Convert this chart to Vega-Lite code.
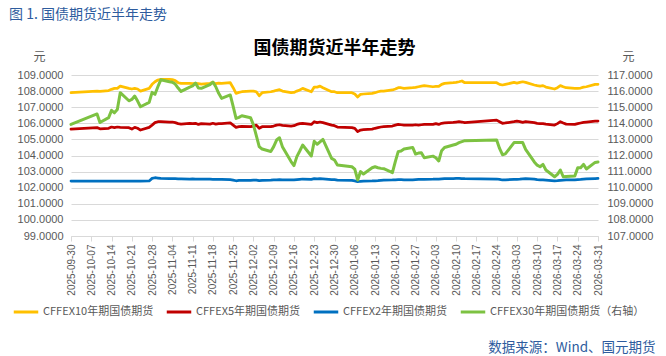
{
  "$schema": "https://vega.github.io/schema/vega-lite/v6.json",
  "width": 527,
  "height": 161,
  "autosize": {"type": "none"},
  "padding": {"left": 71, "top": 75, "right": 68, "bottom": 120},
  "background": "white",
  "config": {
    "view": {"stroke": null},
    "font": "Liberation Sans",
    "axis": {"labelFont": "Liberation Sans", "labelColor": "#595959", "titleFont": "Noto Sans CJK SC", "titleFontWeight": "normal"}
  },
  "title": {
    "text": "图 1. 国债期货近半年走势",
    "anchor": "start",
    "frame": "group",
    "dx": -62,
    "offset": 0,
    "dy": -17,
    "font": "Noto Sans CJK SC",
    "fontSize": 14,
    "fontWeight": "normal",
    "color": "#2E5C9E"
  },
  "data": {
    "format": {"parse": {"date": "utc:'%Y-%m-%d'"}},
    "values": [
      {"date": "2025-09-30", "a": 107.90, "b": 105.64, "c": 102.41, "d": 113.93},
      {"date": "2025-10-09", "a": 108.00, "b": 105.73, "c": 102.41, "d": 114.58},
      {"date": "2025-10-10", "a": 107.98, "b": 105.66, "c": 102.41, "d": 114.05},
      {"date": "2025-10-13", "a": 108.03, "b": 105.69, "c": 102.41, "d": 114.35},
      {"date": "2025-10-14", "a": 108.11, "b": 105.77, "c": 102.41, "d": 114.80},
      {"date": "2025-10-15", "a": 108.17, "b": 105.73, "c": 102.41, "d": 114.65},
      {"date": "2025-10-16", "a": 108.17, "b": 105.77, "c": 102.41, "d": 114.85},
      {"date": "2025-10-17", "a": 108.31, "b": 105.75, "c": 102.41, "d": 115.90},
      {"date": "2025-10-20", "a": 108.17, "b": 105.73, "c": 102.41, "d": 115.40},
      {"date": "2025-10-21", "a": 108.13, "b": 105.64, "c": 102.41, "d": 115.48},
      {"date": "2025-10-22", "a": 108.17, "b": 105.75, "c": 102.41, "d": 115.69},
      {"date": "2025-10-23", "a": 108.13, "b": 105.69, "c": 102.41, "d": 115.38},
      {"date": "2025-10-24", "a": 108.00, "b": 105.58, "c": 102.41, "d": 115.03},
      {"date": "2025-10-27", "a": 108.17, "b": 105.75, "c": 102.42, "d": 115.30},
      {"date": "2025-10-28", "a": 108.42, "b": 105.89, "c": 102.58, "d": 115.92},
      {"date": "2025-10-29", "a": 108.58, "b": 106.04, "c": 102.62, "d": 115.80},
      {"date": "2025-10-30", "a": 108.69, "b": 106.10, "c": 102.60, "d": 116.27},
      {"date": "2025-10-31", "a": 108.73, "b": 106.10, "c": 102.58, "d": 116.70},
      {"date": "2025-11-03", "a": 108.73, "b": 106.08, "c": 102.57, "d": 116.58},
      {"date": "2025-11-04", "a": 108.71, "b": 106.08, "c": 102.56, "d": 116.55},
      {"date": "2025-11-05", "a": 108.65, "b": 106.04, "c": 102.56, "d": 116.44},
      {"date": "2025-11-06", "a": 108.52, "b": 105.98, "c": 102.55, "d": 116.19},
      {"date": "2025-11-07", "a": 108.48, "b": 105.95, "c": 102.55, "d": 115.98},
      {"date": "2025-11-10", "a": 108.48, "b": 106.00, "c": 102.54, "d": 116.25},
      {"date": "2025-11-11", "a": 108.46, "b": 105.98, "c": 102.55, "d": 116.32},
      {"date": "2025-11-12", "a": 108.48, "b": 106.00, "c": 102.54, "d": 116.50},
      {"date": "2025-11-13", "a": 108.46, "b": 105.93, "c": 102.54, "d": 116.19},
      {"date": "2025-11-14", "a": 108.44, "b": 105.98, "c": 102.53, "d": 116.17},
      {"date": "2025-11-17", "a": 108.48, "b": 105.95, "c": 102.53, "d": 116.40},
      {"date": "2025-11-18", "a": 108.54, "b": 106.00, "c": 102.52, "d": 116.56},
      {"date": "2025-11-19", "a": 108.46, "b": 105.95, "c": 102.52, "d": 116.27},
      {"date": "2025-11-20", "a": 108.50, "b": 105.98, "c": 102.51, "d": 115.86},
      {"date": "2025-11-21", "a": 108.48, "b": 105.98, "c": 102.52, "d": 115.55},
      {"date": "2025-11-24", "a": 108.52, "b": 106.02, "c": 102.50, "d": 115.76},
      {"date": "2025-11-25", "a": 108.21, "b": 105.89, "c": 102.47, "d": 115.05},
      {"date": "2025-11-26", "a": 107.86, "b": 105.75, "c": 102.43, "d": 114.30},
      {"date": "2025-11-27", "a": 107.92, "b": 105.79, "c": 102.45, "d": 114.37},
      {"date": "2025-11-28", "a": 107.96, "b": 105.81, "c": 102.46, "d": 114.47},
      {"date": "2025-12-01", "a": 108.00, "b": 105.79, "c": 102.46, "d": 114.35},
      {"date": "2025-12-02", "a": 108.00, "b": 105.83, "c": 102.47, "d": 113.90},
      {"date": "2025-12-03", "a": 107.96, "b": 105.89, "c": 102.47, "d": 113.23},
      {"date": "2025-12-04", "a": 107.71, "b": 105.69, "c": 102.44, "d": 112.55},
      {"date": "2025-12-05", "a": 107.90, "b": 105.79, "c": 102.46, "d": 112.40},
      {"date": "2025-12-08", "a": 107.96, "b": 105.79, "c": 102.47, "d": 112.25},
      {"date": "2025-12-09", "a": 108.00, "b": 105.83, "c": 102.48, "d": 112.55},
      {"date": "2025-12-10", "a": 108.05, "b": 105.89, "c": 102.49, "d": 112.96},
      {"date": "2025-12-11", "a": 108.09, "b": 105.91, "c": 102.50, "d": 113.10},
      {"date": "2025-12-12", "a": 108.00, "b": 105.87, "c": 102.49, "d": 112.55},
      {"date": "2025-12-15", "a": 107.90, "b": 105.83, "c": 102.48, "d": 111.62},
      {"date": "2025-12-16", "a": 107.92, "b": 105.85, "c": 102.48, "d": 111.37},
      {"date": "2025-12-17", "a": 108.00, "b": 105.93, "c": 102.50, "d": 111.93},
      {"date": "2025-12-18", "a": 108.07, "b": 105.98, "c": 102.52, "d": 112.28},
      {"date": "2025-12-19", "a": 108.17, "b": 106.00, "c": 102.54, "d": 112.65},
      {"date": "2025-12-22", "a": 107.96, "b": 105.93, "c": 102.52, "d": 111.97},
      {"date": "2025-12-23", "a": 108.25, "b": 106.10, "c": 102.56, "d": 112.88},
      {"date": "2025-12-24", "a": 108.25, "b": 106.04, "c": 102.55, "d": 112.70},
      {"date": "2025-12-25", "a": 108.31, "b": 106.08, "c": 102.56, "d": 112.85},
      {"date": "2025-12-26", "a": 108.21, "b": 106.04, "c": 102.55, "d": 113.00},
      {"date": "2025-12-29", "a": 107.96, "b": 105.89, "c": 102.50, "d": 111.82},
      {"date": "2025-12-30", "a": 107.96, "b": 105.85, "c": 102.50, "d": 111.72},
      {"date": "2025-12-31", "a": 107.90, "b": 105.77, "c": 102.47, "d": 111.41},
      {"date": "2026-01-05", "a": 107.90, "b": 105.73, "c": 102.45, "d": 111.30},
      {"date": "2026-01-06", "a": 107.82, "b": 105.69, "c": 102.42, "d": 111.15},
      {"date": "2026-01-07", "a": 107.63, "b": 105.48, "c": 102.37, "d": 110.48},
      {"date": "2026-01-08", "a": 107.80, "b": 105.58, "c": 102.40, "d": 111.00},
      {"date": "2026-01-09", "a": 107.82, "b": 105.60, "c": 102.41, "d": 110.85},
      {"date": "2026-01-12", "a": 107.86, "b": 105.64, "c": 102.42, "d": 111.24},
      {"date": "2026-01-13", "a": 107.90, "b": 105.69, "c": 102.43, "d": 111.30},
      {"date": "2026-01-14", "a": 107.96, "b": 105.73, "c": 102.44, "d": 111.24},
      {"date": "2026-01-15", "a": 108.00, "b": 105.77, "c": 102.46, "d": 111.20},
      {"date": "2026-01-16", "a": 108.00, "b": 105.79, "c": 102.47, "d": 111.18},
      {"date": "2026-01-19", "a": 108.07, "b": 105.83, "c": 102.48, "d": 110.93},
      {"date": "2026-01-20", "a": 108.13, "b": 105.89, "c": 102.49, "d": 111.62},
      {"date": "2026-01-21", "a": 108.21, "b": 105.93, "c": 102.50, "d": 112.24},
      {"date": "2026-01-22", "a": 108.21, "b": 105.91, "c": 102.50, "d": 112.28},
      {"date": "2026-01-23", "a": 108.17, "b": 105.89, "c": 102.49, "d": 112.40},
      {"date": "2026-01-26", "a": 108.21, "b": 105.89, "c": 102.49, "d": 112.50},
      {"date": "2026-01-27", "a": 108.23, "b": 105.91, "c": 102.50, "d": 112.09},
      {"date": "2026-01-28", "a": 108.27, "b": 105.89, "c": 102.51, "d": 112.15},
      {"date": "2026-01-29", "a": 108.31, "b": 105.91, "c": 102.52, "d": 112.17},
      {"date": "2026-01-30", "a": 108.34, "b": 105.93, "c": 102.52, "d": 111.86},
      {"date": "2026-02-02", "a": 108.27, "b": 105.93, "c": 102.53, "d": 111.96},
      {"date": "2026-02-03", "a": 108.29, "b": 105.98, "c": 102.54, "d": 111.86},
      {"date": "2026-02-04", "a": 108.29, "b": 105.93, "c": 102.54, "d": 111.66},
      {"date": "2026-02-05", "a": 108.42, "b": 106.00, "c": 102.55, "d": 112.30},
      {"date": "2026-02-06", "a": 108.48, "b": 106.02, "c": 102.56, "d": 112.50},
      {"date": "2026-02-09", "a": 108.52, "b": 106.06, "c": 102.57, "d": 112.65},
      {"date": "2026-02-10", "a": 108.54, "b": 106.08, "c": 102.58, "d": 112.70},
      {"date": "2026-02-11", "a": 108.58, "b": 106.10, "c": 102.58, "d": 112.80},
      {"date": "2026-02-12", "a": 108.63, "b": 106.08, "c": 102.57, "d": 112.86},
      {"date": "2026-02-13", "a": 108.52, "b": 106.04, "c": 102.56, "d": 112.92},
      {"date": "2026-02-24", "a": 108.52, "b": 106.20, "c": 102.54, "d": 112.96},
      {"date": "2026-02-25", "a": 108.42, "b": 106.10, "c": 102.52, "d": 112.44},
      {"date": "2026-02-26", "a": 108.38, "b": 106.00, "c": 102.48, "d": 112.05},
      {"date": "2026-02-27", "a": 108.42, "b": 106.02, "c": 102.49, "d": 112.10},
      {"date": "2026-03-02", "a": 108.54, "b": 106.10, "c": 102.51, "d": 112.80},
      {"date": "2026-03-03", "a": 108.50, "b": 106.14, "c": 102.52, "d": 112.80},
      {"date": "2026-03-04", "a": 108.54, "b": 106.10, "c": 102.53, "d": 112.80},
      {"date": "2026-03-05", "a": 108.58, "b": 106.06, "c": 102.55, "d": 112.80},
      {"date": "2026-03-06", "a": 108.54, "b": 106.10, "c": 102.56, "d": 112.38},
      {"date": "2026-03-09", "a": 108.38, "b": 106.04, "c": 102.53, "d": 111.60},
      {"date": "2026-03-10", "a": 108.34, "b": 106.00, "c": 102.50, "d": 111.40},
      {"date": "2026-03-11", "a": 108.31, "b": 105.98, "c": 102.49, "d": 111.30},
      {"date": "2026-03-12", "a": 108.34, "b": 105.98, "c": 102.48, "d": 111.45},
      {"date": "2026-03-13", "a": 108.25, "b": 105.95, "c": 102.47, "d": 111.10},
      {"date": "2026-03-16", "a": 108.13, "b": 105.89, "c": 102.43, "d": 110.68},
      {"date": "2026-03-17", "a": 108.21, "b": 105.98, "c": 102.44, "d": 110.83},
      {"date": "2026-03-18", "a": 108.34, "b": 106.10, "c": 102.46, "d": 111.10},
      {"date": "2026-03-19", "a": 108.27, "b": 106.02, "c": 102.47, "d": 110.68},
      {"date": "2026-03-20", "a": 108.21, "b": 105.95, "c": 102.48, "d": 110.70},
      {"date": "2026-03-23", "a": 108.17, "b": 105.93, "c": 102.49, "d": 110.72},
      {"date": "2026-03-24", "a": 108.17, "b": 105.98, "c": 102.50, "d": 111.24},
      {"date": "2026-03-25", "a": 108.19, "b": 106.02, "c": 102.51, "d": 111.24},
      {"date": "2026-03-26", "a": 108.25, "b": 106.06, "c": 102.53, "d": 111.45},
      {"date": "2026-03-27", "a": 108.27, "b": 106.08, "c": 102.55, "d": 111.16},
      {"date": "2026-03-30", "a": 108.42, "b": 106.14, "c": 102.57, "d": 111.57},
      {"date": "2026-03-31", "a": 108.42, "b": 106.14, "c": 102.58, "d": 111.60}
    ]
  },
  "layer": [
    {
      "transform": [{"fold": ["a", "b", "c"], "as": ["s", "v"]}],
      "mark": {"type": "line", "strokeWidth": 2.75, "strokeJoin": "round", "strokeCap": "round"},
      "encoding": {
        "x": {
          "field": "date",
          "type": "temporal",
          "scale": {"type": "utc", "nice": false, "domain": [{"year": 2025, "month": 9, "date": 30, "utc": true}, {"year": 2026, "month": 3, "date": 31, "utc": true}]},
          "axis": {
            "orient": "bottom",
            "labelExpr": "utcFormat(datum.value, '%Y-%m-%d')",
            "values": [
              {"year": 2025, "month": 9, "date": 30, "utc": true},
              {"year": 2025, "month": 10, "date": 7, "utc": true},
              {"year": 2025, "month": 10, "date": 14, "utc": true},
              {"year": 2025, "month": 10, "date": 21, "utc": true},
              {"year": 2025, "month": 10, "date": 28, "utc": true},
              {"year": 2025, "month": 11, "date": 4, "utc": true},
              {"year": 2025, "month": 11, "date": 11, "utc": true},
              {"year": 2025, "month": 11, "date": 18, "utc": true},
              {"year": 2025, "month": 11, "date": 25, "utc": true},
              {"year": 2025, "month": 12, "date": 2, "utc": true},
              {"year": 2025, "month": 12, "date": 9, "utc": true},
              {"year": 2025, "month": 12, "date": 16, "utc": true},
              {"year": 2025, "month": 12, "date": 23, "utc": true},
              {"year": 2025, "month": 12, "date": 30, "utc": true},
              {"year": 2026, "month": 1, "date": 6, "utc": true},
              {"year": 2026, "month": 1, "date": 13, "utc": true},
              {"year": 2026, "month": 1, "date": 20, "utc": true},
              {"year": 2026, "month": 1, "date": 27, "utc": true},
              {"year": 2026, "month": 2, "date": 3, "utc": true},
              {"year": 2026, "month": 2, "date": 10, "utc": true},
              {"year": 2026, "month": 2, "date": 17, "utc": true},
              {"year": 2026, "month": 2, "date": 24, "utc": true},
              {"year": 2026, "month": 3, "date": 3, "utc": true},
              {"year": 2026, "month": 3, "date": 10, "utc": true},
              {"year": 2026, "month": 3, "date": 17, "utc": true},
              {"year": 2026, "month": 3, "date": 24, "utc": true},
              {"year": 2026, "month": 3, "date": 31, "utc": true}
            ],
            "labelAngle": 270,
            "labelFontSize": 10,
            "labelPadding": 3,
            "labelOverlap": false,
            "labelFlush": false,
            "grid": false,
            "domainColor": "#d9d9d9",
            "tickColor": "#d9d9d9",
            "tickSize": 5,
            "title": "数据来源：Wind、国元期货",
            "titleFont": "Noto Sans CJK SC",
            "titleFontSize": 13.5,
            "titleColor": "#2E5C9E",
            "titleAlign": "right",
            "titleAnchor": "end",
            "titleBaseline": "middle",
            "titleX": 584,
            "titleY": 111
          }
        },
        "y": {
          "field": "v",
          "type": "quantitative",
          "scale": {"domain": [99, 109], "nice": false, "zero": false},
          "axis": {
            "orient": "left",
            "values": [99, 100, 101, 102, 103, 104, 105, 106, 107, 108, 109],
            "format": ".4f",
            "labelFontSize": 11,
            "labelPadding": 8,
            "domain": false,
            "ticks": false,
            "grid": true,
            "gridColor": "#d9d9d9",
            "gridWidth": 1,
            "title": "元",
            "titleAngle": 0,
            "titleFontSize": 12,
            "titleColor": "#595959",
            "titleAlign": "center",
            "titleBaseline": "middle",
            "titleX": -32,
            "titleY": -19
          }
        },
        "color": {
          "field": "s",
          "type": "nominal",
          "scale": {"domain": ["a", "b", "c", "d"], "range": ["#FFC000", "#C00000", "#0070C0", "#7DC242"]},
          "legend": {
            "orient": "none",
            "direction": "horizontal",
            "legendX": -59,
            "legendY": 223,
            "title": null,
            "symbolType": "stroke",
            "symbolSize": 600,
            "symbolStrokeWidth": 3,
            "labelFont": "Noto Sans CJK SC",
            "labelFontSize": 11,
            "labelColor": "#595959",
            "labelOffset": 3,
            "columnPadding": 6,
            "labelLimit": 300,
            "labelExpr": "datum.label == 'a' ? 'CFFEX10年期国债期货' : datum.label == 'b' ? 'CFFEX5年期国债期货' : datum.label == 'c' ? 'CFFEX2年期国债期货' : 'CFFEX30年期国债期货（右轴）'"
          }
        }
      }
    },
    {
      "transform": [{"fold": ["d"], "as": ["s", "v"]}],
      "mark": {"type": "line", "strokeWidth": 3, "strokeJoin": "round", "strokeCap": "round"},
      "encoding": {
        "x": {
          "field": "date",
          "type": "temporal",
          "axis": {
            "orient": "top",
            "labels": false,
            "ticks": false,
            "domain": false,
            "grid": false,
            "title": "国债期货近半年走势",
            "titleFont": "Noto Sans CJK SC",
            "titleFontSize": 18,
            "titleFontWeight": "bold",
            "titleColor": "#000000",
            "titleAlign": "center",
            "titleBaseline": "middle",
            "titleX": 263,
            "titleY": -27
          }
        },
        "y": {
          "field": "v",
          "type": "quantitative",
          "scale": {"domain": [107, 117], "nice": false, "zero": false},
          "axis": {
            "orient": "right",
            "values": [107, 108, 109, 110, 111, 112, 113, 114, 115, 116, 117],
            "format": ".4f",
            "labelFontSize": 11,
            "labelPadding": 9,
            "domain": false,
            "ticks": false,
            "grid": false,
            "title": "元",
            "titleAngle": 0,
            "titleFontSize": 12,
            "titleColor": "#595959",
            "titleAlign": "center",
            "titleBaseline": "middle",
            "titleX": 30,
            "titleY": -19
          }
        },
        "color": {"field": "s", "type": "nominal"}
      }
    }
  ],
  "resolve": {"scale": {"y": "independent"}, "axis": {"x": "independent"}}
}
